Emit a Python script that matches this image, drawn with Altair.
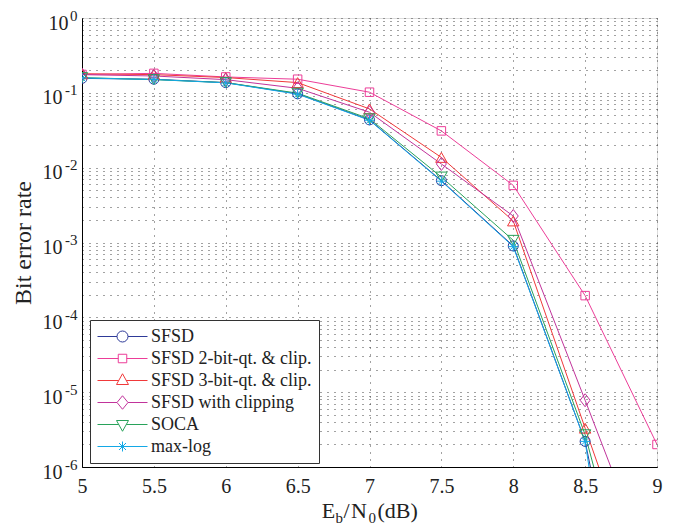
import altair as alt
import pandas as pd

# ---------------- data ----------------
ebn0 = [5, 5.5, 6, 6.5, 7, 7.5, 8, 8.5, 9]

ber_sfsd = [0.156, 0.152, 0.137, 0.097, 0.0435, 0.0067, 0.00090, 2.2e-6, 5e-11]
ber_2bit = [0.176, 0.182, 0.163, 0.152, 0.102, 0.031, 0.0058, 1.95e-4, 2.0e-6]
ber_3bit = [0.180, 0.175, 0.160, 0.137, 0.061, 0.0137, 0.00194, 3.3e-6, 6e-9]
ber_clip = [0.175, 0.168, 0.150, 0.115, 0.055, 0.0112, 0.00226, 7.8e-6, 2.5e-8]
ber_soca = [0.160, 0.150, 0.137, 0.099, 0.045, 0.0075, 0.00107, 2.7e-6, 7e-10]
ber_maxlog = [0.158, 0.151, 0.136, 0.096, 0.043, 0.0066, 0.00088, 2.2e-6, 1e-12]

series_names = [
    "SFSD",
    "SFSD 2-bit-qt. & clip.",
    "SFSD 3-bit-qt. & clip.",
    "SFSD with clipping",
    "SOCA",
    "max-log",
]
series_values = [ber_sfsd, ber_2bit, ber_3bit, ber_clip, ber_soca, ber_maxlog]
series_colors = ["#2E3A98", "#EC3D98", "#F0393A", "#C1339B", "#28A25A", "#13A8E6"]

x_ticks = [5, 5.5, 6, 6.5, 7, 7.5, 8, 8.5, 9]
y_decades = [1e-6, 1e-5, 1e-4, 1e-3, 1e-2, 1e-1, 1]
y_minor_mult = [2, 3, 4, 5, 6, 7, 8, 9]
y_ticks = y_decades + [m * d for d in y_decades[:-1] for m in y_minor_mult]

# ---------------- styling ----------------
SERIF = "Liberation Serif"
ASTERISK = "M-1,0L1,0M0,-1L0,1M-0.7,-0.7L0.7,0.7M-0.7,0.7L0.7,-0.7"
DIAMOND = "M0,-1.3L1,0L0,1.3L-1,0Z"
plot_shapes = ["circle", "square", "triangle-up", DIAMOND, "triangle-down", ASTERISK]
plot_sizes = [100, 72, 130, 100, 130, 100]

legend_shapes = [
    "M-1,0L-0.22,0M0.22,0L1,0M0.22,0A0.22 0.22 0 1 1 -0.22,0A0.22 0.22 0 1 1 0.22,0Z",
    "M-1,0L-0.17,0M0.17,0L1,0M-0.17,-0.17L0.17,-0.17L0.17,0.17L-0.17,0.17Z",
    "M-1,0L-0.15,0M0.15,0L1,0M0,-0.27L0.24,0.16L-0.24,0.16Z",
    "M-1,0L-0.22,0M0.22,0L1,0M0,-0.27L0.22,0L0,0.27L-0.22,0Z",
    "M-1,0L-0.15,0M0.15,0L1,0M0,0.27L0.24,-0.16L-0.24,-0.16Z",
    "M-1,0L1,0M0,-0.2L0,0.2M-0.14,-0.14L0.14,0.14M-0.14,0.14L0.14,-0.14",
]

rows = []
for name, vals in zip(series_names, series_values):
    for xv, yv in zip(ebn0, vals):
        rows.append({"ebn0": xv, "ber": yv, "series": name})
df = pd.DataFrame(rows)

W, H = 575, 449
PAD = {"left": 74, "top": 10, "right": 14, "bottom": 62}

x_scale = alt.Scale(domain=[5, 9], nice=False, zero=False)
y_scale = alt.Scale(type="log", domain=[1e-6, 1], nice=False)
color_scale = alt.Scale(domain=series_names, range=series_colors)
shape_scale = alt.Scale(domain=series_names, range=legend_shapes)

DEC = "abs(log(datum.value)/LN10 - round(log(datum.value)/LN10)) < 0.001"

x_axis = alt.Axis(
    values=x_ticks, format="~g", grid=True, gridDash=[1, 6], gridColor="#444",
    gridWidth=1, ticks=False, tickSize=0, domainColor="black", labelFont=SERIF,
    labelFontSize=20, labelColor="#222", labelPadding=9, labelFlush=False,
    labelOverlap=False, title=None,
)
y_axis_main = alt.Axis(
    values=y_ticks, grid=True, gridDash=[1, 6], gridColor="#444", gridWidth=1,
    ticks=False, tickSize=0, domainColor="black", labelFont=SERIF,
    labelFontSize=20, labelColor="#222", labelAlign="right", labelBaseline="middle",
    labelOffset=5, labelOverlap=False, labelBound=False,
    labelPadding={"condition": {"test": "datum.value == 1", "value": 14}, "value": 20},
    labelExpr=f"{DEC} ? '10' : ''",
    title="Bit error rate", titleFont=SERIF, titleFontSize=24, titleFontWeight="normal",
    titleColor="#222", titleAngle=270, titleX=-59, titleY=H / 2, titleAlign="center",
    titleBaseline="middle", orient="left",
)
y_axis_exp = alt.Axis(
    values=y_decades, grid=False, ticks=False, tickSize=0, domain=False,
    labelFont=SERIF, labelFontSize=15, labelColor="#222", labelAlign="right",
    labelBaseline="middle", labelOffset=-3, labelPadding=5, labelOverlap=False,
    labelExpr="'' + round(log(datum.value)/LN10)", title=None, orient="left",
)

base = alt.Chart(df)
X = alt.X("ebn0:Q", scale=x_scale, axis=x_axis)


def Y(axis):
    return alt.Y("ber:Q", scale=y_scale, axis=axis)


layers = []
first = True
for name, col in zip(series_names, series_colors):
    layers.append(
        base.transform_filter(alt.datum.series == name)
        .mark_line(clip=True, strokeWidth=1, color=col)
        .encode(x=X, y=Y(y_axis_main if first else None))
    )
    first = False

for name, col, shp, sz in zip(series_names, series_colors, plot_shapes, plot_sizes):
    layers.append(
        base.transform_filter(alt.datum.series == name)
        .mark_point(clip=True, filled=False, shape=shp, size=sz, strokeWidth=1,
                    opacity=1, color=col)
        .encode(x=X, y=Y(None))
    )

leg = alt.Legend(
    title=None, orient="none", legendX=8, legendY=302, padding=7,
    fillColor="white", strokeColor="#333",
    labelFont=SERIF, labelFontSize=18, labelColor="#222", labelLimit=400,
    labelOffset=3, symbolSize=2500, symbolStrokeWidth=1, symbolOpacity=1,
    rowPadding=3, symbolFillColor="transparent", clipHeight=19,
)

legend_layer = base.mark_point(opacity=0, filled=False).encode(
    x=X,
    y=Y(y_axis_exp),
    color=alt.Color("series:N", scale=color_scale, legend=leg),
    shape=alt.Shape("series:N", scale=shape_scale, legend=leg),
)
layers.append(legend_layer)

# x-axis title with subscripts: E_b / N_0 (dB)
title_pieces = [
    ("E", 239.7, 500, 22),
    ("b", 253.5, 505, 15),
    ("/", 261.5, 500, 22),
    ("N", 269.0, 500, 22),
    ("0", 286.5, 505, 15),
    ("(dB)", 295.5, 500, 22),
]
for txt, px, py, fs in title_pieces:
    layers.append(
        alt.Chart(pd.DataFrame({"t": [txt]}))
        .mark_text(align="left", baseline="alphabetic", font=SERIF, fontSize=fs, color="#222")
        .encode(text="t:N", x=alt.value(px), y=alt.value(py))
    )

chart = (
    alt.layer(*layers)
    .resolve_axis(y="independent")
    .properties(
        width=W, height=H,
        autosize=alt.AutoSizeParams(type="none"),
        padding=PAD,
    )
    .configure_view(stroke="black", strokeWidth=1)
    .configure_legend(labelFont=SERIF, labelFontSize=18, labelColor="#222")
    .configure(background="white", font=SERIF)
)

chart.save("out.html", embed_options={"renderer": "svg", "actions": False})
